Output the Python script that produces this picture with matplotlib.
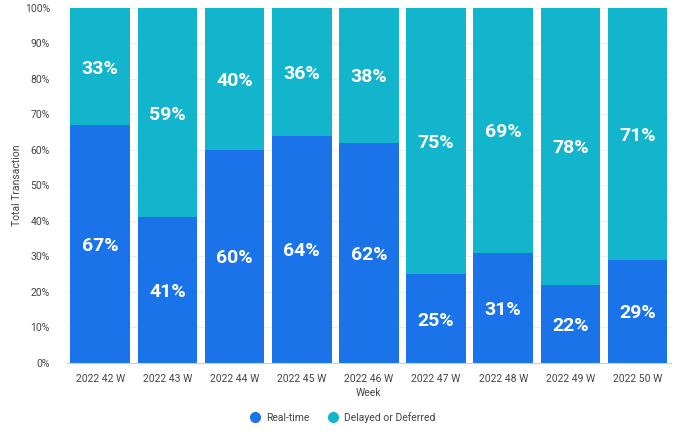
import matplotlib.pyplot as plt
import numpy as np

weeks = ["2022 42 W", "2022 43 W", "2022 44 W", "2022 45 W", "2022 46 W",
         "2022 47 W", "2022 48 W", "2022 49 W", "2022 50 W"]
real_time = [67, 41, 60, 64, 62, 25, 31, 22, 29]
delayed = [33, 59, 40, 36, 38, 75, 69, 78, 71]

c_real = "#1a73e8"
c_delay = "#12b5cb"

plt.rcParams["font.family"] = ["Roboto", "DejaVu Sans"]

fig = plt.figure(figsize=(6.8, 4.42), dpi=100)
ax = fig.add_axes([0.098, 0.179, 0.889, 0.803])

x = np.arange(len(weeks))
ax.bar(x, real_time, width=0.89, color=c_real, label="Real-time", zorder=2)
ax.bar(x, delayed, width=0.89, bottom=real_time, color=c_delay,
       label="Delayed or Deferred", zorder=2)

for i in range(len(weeks)):
    ax.text(x[i], real_time[i] / 2, f"{real_time[i]}%", ha="center",
            va="center_baseline", color="white", fontsize=14, fontweight="bold")
    ax.text(x[i], real_time[i] + delayed[i] / 2, f"{delayed[i]}%", ha="center",
            va="center_baseline", color="white", fontsize=14, fontweight="bold")

ax.set_xlim(-0.5, len(weeks) - 0.5)
ax.set_ylim(0, 100)
ax.set_yticks(range(0, 101, 10))
ax.set_yticklabels([f"{v}%" for v in range(0, 101, 10)])
ax.set_xticks(x)
ax.set_xticklabels(weeks)
ax.tick_params(axis="both", length=0, labelsize=7.5, colors="#444444")
ax.tick_params(axis="x", pad=8)
ax.tick_params(axis="y", pad=12)
ax.grid(axis="y", color="#eeeeee", linewidth=0.8, zorder=0)
for s in ["top", "right", "left"]:
    ax.spines[s].set_visible(False)
ax.spines["bottom"].set_color("#c8d0dc")

ax.set_xlabel("Week", fontsize=7.5, color="#444444", labelpad=3)
ax.set_ylabel("Total Transaction", fontsize=7.5, color="#444444", labelpad=2)

handles = [plt.Line2D([], [], marker="o", linestyle="", markersize=7, color=c_real),
           plt.Line2D([], [], marker="o", linestyle="", markersize=7, color=c_delay)]
fig.legend(handles, ["Real-time", "Delayed or Deferred"], loc="center",
           bbox_to_anchor=(0.5, 0.055), ncol=2, frameon=False, fontsize=7.5,
           handletextpad=0.1, columnspacing=1.2, labelcolor="#444444")

fig.savefig("out.png", dpi=100)
